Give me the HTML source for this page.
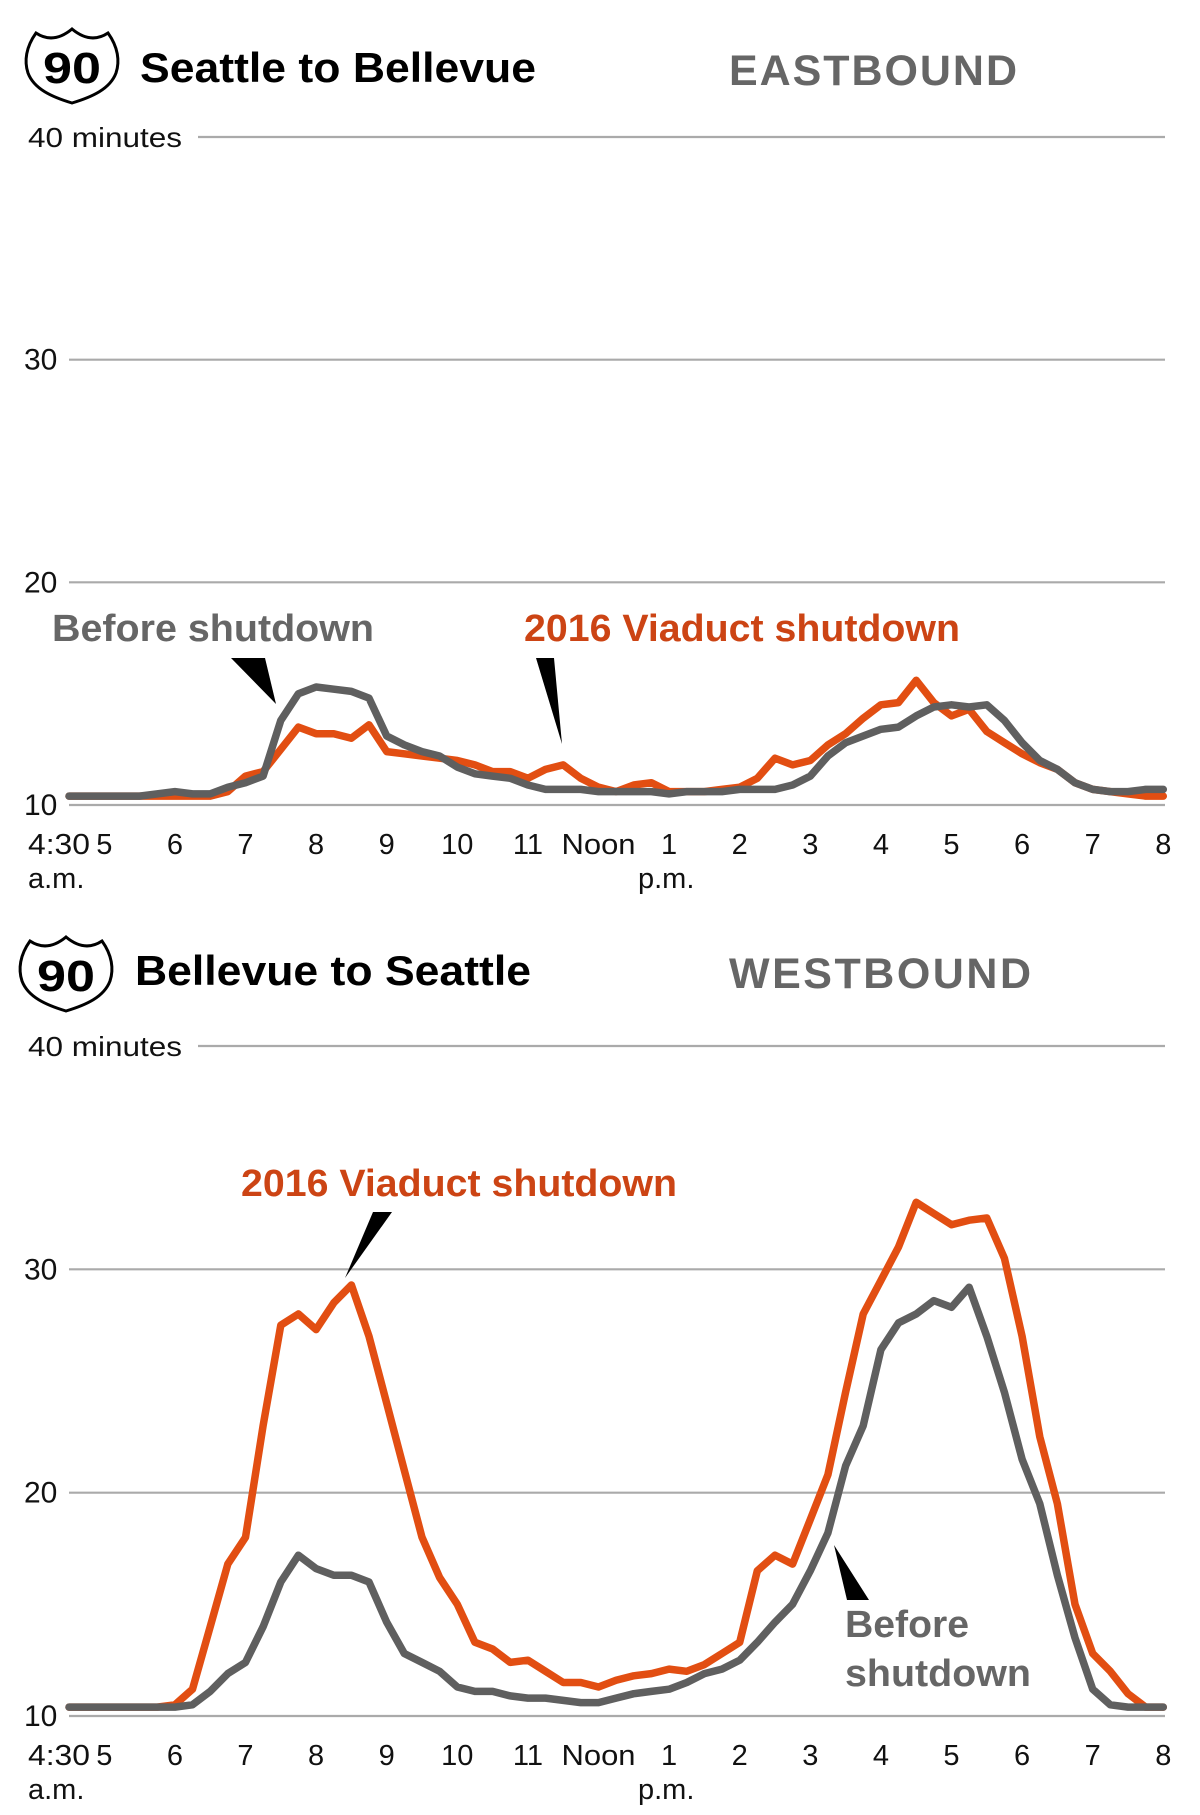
<!DOCTYPE html>
<html><head><meta charset="utf-8"><style>
html,body{margin:0;padding:0;background:#fff;}
svg{display:block;}
text{font-family:"Liberation Sans",sans-serif;}
</style></head><body>
<svg id="c" width="1200" height="1815" viewBox="0 0 1200 1815">
<rect width="1200" height="1815" fill="#fff"/>
</svg>
<script>
// times in hours: 4:30 to 20:00, 15-minute steps
const hourTicks = [5,6,7,8,9,10,11,12,13,14,15,16,17,18,19,20];
const hourLabels = ["5","6","7","8","9","10","11","Noon","1","2","3","4","5","6","7","8"];
const yTicks = [10,20,30,40];
const yTickLabels = ["10","20","30","40 minutes"];
const eastBefore = [10.4,10.4,
10.4,10.4,10.4,10.5, 10.6,10.5,10.5,10.8, 11.0,11.3,13.8,15.0, 15.3,15.2,15.1,14.8,
13.1,12.7,12.4,12.2, 11.7,11.4,11.3,11.2, 10.9,10.7,10.7,10.7, 10.6,10.6,10.6,10.6,
10.5,10.6,10.6,10.6, 10.7,10.7,10.7,10.9, 11.3,12.2,12.8,13.1, 13.4,13.5,14.0,14.4,
14.5,14.4,14.5,13.8, 12.8,12.0,11.6,11.0, 10.7,10.6,10.6,10.7, 10.7];
const eastViaduct = [10.4,10.4,
10.4,10.4,10.4,10.4, 10.4,10.4,10.4,10.6, 11.3,11.5,12.5,13.5, 13.2,13.2,13.0,13.6,
12.4,12.3,12.2,12.1, 12.0,11.8,11.5,11.5, 11.2,11.6,11.8,11.2, 10.8,10.6,10.9,11.0,
10.6,10.6,10.6,10.7, 10.8,11.2,12.1,11.8, 12.0,12.7,13.2,13.9, 14.5,14.6,15.6,14.6,
14.0,14.3,13.3,12.8, 12.3,11.9,11.6,11.0, 10.7,10.6,10.5,10.4, 10.4];
const westBefore = [10.4,10.4,
10.4,10.4,10.4,10.4, 10.4,10.5,11.1,11.9, 12.4,14.0,16.0,17.2, 16.6,16.3,16.3,16.0,
14.2,12.8,12.4,12.0, 11.3,11.1,11.1,10.9, 10.8,10.8,10.7,10.6, 10.6,10.8,11.0,11.1,
11.2,11.5,11.9,12.1, 12.5,13.3,14.2,15.0, 16.5,18.2,21.2,23.0, 26.4,27.6,28.0,28.6,
28.3,29.2,27.0,24.5, 21.5,19.5,16.3,13.5, 11.2,10.5,10.4,10.4, 10.4];
const westViaduct = [10.4,10.4,
10.4,10.4,10.4,10.4, 10.5,11.2,14.0,16.8, 18.0,23.0,27.5,28.0, 27.3,28.5,29.3,27.0,
24.0,21.0,18.0,16.2, 15.0,13.3,13.0,12.4, 12.5,12.0,11.5,11.5, 11.3,11.6,11.8,11.9,
12.1,12.0,12.3,12.8, 13.3,16.5,17.2,16.8, 18.8,20.8,24.5,28.0, 29.5,31.0,33.0,32.5,
32.0,32.2,32.3,30.5, 27.0,22.5,19.5,15.0, 12.8,12.0,11.0,10.4, 10.4];

const NS="http://www.w3.org/2000/svg";
const svg=document.getElementById('c');
function mk(tag,attrs,parent,txt){const e=document.createElementNS(NS,tag);for(const k in attrs)e.setAttribute(k,attrs[k]);if(txt!==undefined)e.textContent=txt;(parent||svg).appendChild(e);return e;}
function xS(t){return 69+(t-4.5)*70.6;}
function tAt(i){return 4.5+i*0.25;}

function drawChart(cfg){
  const g=mk('g',{});
  
  
  const yS=v=>cfg.y10-(v-10)*(cfg.y10-cfg.y40)/30;
  const s=mk('g',{transform:`translate(${cfg.sx},${cfg.sy})`},g);
  
  
  mk('path',{d:"M10,6 C22,14 34,12 46,2 C58,12 70,14 82,6 C92,20 94,34 90,46 C84,62 66,70 46,76 C26,70 8,62 2,46 C-2,34 0,20 10,6 Z",fill:"#fff",stroke:"#000","stroke-width":3},s);
  mk('text',{x:46,y:56,"text-anchor":"middle","font-size":44,"font-weight":"bold",fill:"#000",textLength:58,lengthAdjust:"spacingAndGlyphs"},s,"90");
  let t=mk('text',{x:cfg.tx,y:cfg.ty,"font-size":42,"font-weight":"bold",fill:"#000",textLength:cfg.tw,lengthAdjust:"spacingAndGlyphs"},g,cfg.title);
  
  t=mk('text',{x:729,y:cfg.ty+3,"font-size":43,"font-weight":"bold",fill:"#666",textLength:cfg.dw,lengthAdjust:"spacing"},g,cfg.dir);
  
  yTicks.forEach((v,i)=>{
    const y=yS(v);
    const l=mk('line',{x1:i===3?198:69,x2:1165,y1:y,y2:y,stroke:"#aaa","stroke-width":2.2},g);
    
    const tl=mk('text',{x:24,y:y+10,"font-size":30,fill:"#111"},g,yTickLabels[i]);
    if(i===3){tl.setAttribute('x',28);tl.setAttribute('font-size',28);tl.setAttribute('textLength',154);tl.setAttribute('lengthAdjust','spacingAndGlyphs');}
    
  });
  const lb=cfg.y10+49;
  let a=mk('text',{x:28,y:lb,"font-size":29,fill:"#111",textLength:62,lengthAdjust:"spacingAndGlyphs"},g,"4:30");
  
  a=mk('text',{x:28,y:lb+34,"font-size":29,fill:"#111"},g,"a.m.");
  
  hourTicks.forEach((h,i)=>{
    const e=mk('text',{x:xS(h),y:lb,"font-size":29,fill:"#111","text-anchor":"middle"},g,hourLabels[i]);
    if(hourLabels[i]==="Noon"){e.setAttribute('textLength',74);e.setAttribute('lengthAdjust','spacingAndGlyphs');}
    
  });
  a=mk('text',{x:638,y:lb+34,"font-size":29,fill:"#111"},g,"p.m.");
  
  [[cfg.viaduct,"#e24e12",'series-2016-viaduct-shutdown'],[cfg.before,"#5f5f5f",'series-before-shutdown']].forEach(([arr,col,nm])=>{
    const d=arr.map((v,i)=>(i?'L':'M')+xS(tAt(i)).toFixed(1)+','+yS(v).toFixed(1)).join(' ');
    const p=mk('path',{d:d,fill:"none",stroke:col,"stroke-width":7.5,"stroke-linejoin":"round","stroke-linecap":"round"},g);
    
  });
  cfg.notes.forEach(n=>{
    const e=mk('text',{x:n.x,y:n.y,"font-size":38,"font-weight":"bold",fill:n.c,textLength:n.w,lengthAdjust:"spacingAndGlyphs"},g,n.t);
    
  });
  cfg.pointers.forEach(p=>{
    const e=mk('polygon',{points:p,fill:"#000"},g);
    
  });
}
drawChart({name:'eastbound-chart',y10:805,y40:137,sx:26,sy:27,tx:140,ty:82,tw:396,title:"Seattle to Bellevue",dir:"EASTBOUND",dw:288,
  before:eastBefore,viaduct:eastViaduct,
  notes:[{x:52,y:641,w:322,c:"#666",t:"Before shutdown"},{x:524,y:641,w:436,c:"#cc4414",t:"2016 Viaduct shutdown"}],
  pointers:["231,658 265,658 276,704","536,658 554,658 562,744"]});
drawChart({name:'westbound-chart',y10:1716,y40:1046,sx:20,sy:935,tx:135,ty:985,tw:396,title:"Bellevue to Seattle",dir:"WESTBOUND",dw:302,
  before:westBefore,viaduct:westViaduct,
  notes:[{x:241,y:1196,w:436,c:"#cc4414",t:"2016 Viaduct shutdown"},{x:845,y:1637,w:124,c:"#666",t:"Before"},{x:845,y:1686,w:186,c:"#666",t:"shutdown"}],
  pointers:["373,1212 392,1212 345,1278","834,1545 847,1600 869,1600"]});
</script>
</body></html>
